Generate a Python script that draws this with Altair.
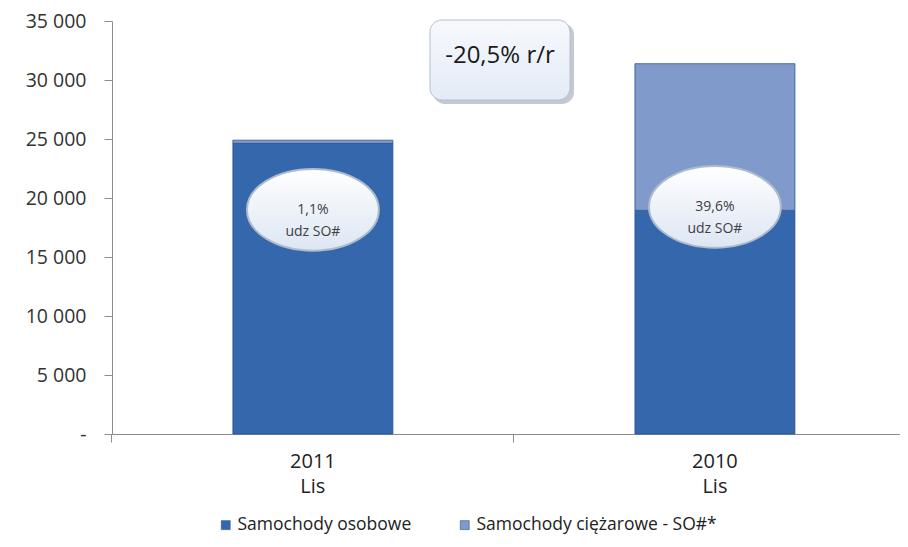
import altair as alt
import pandas as pd

# ---- data ----
years = ["2011 Lis", "2010 Lis"]
series = ["Samochody osobowe", "Samochody ciężarowe - SO#*"]
osobowe = [24630, 18950]
ciezarowe = [270, 12430]
share_labels = ["1,1%|udz SO#", "39,6%|udz SO#"]
share_anchor = [19000, 19250]
yoy_label = "-20,5% r/r"
y_ticks = [0, 5000, 10000, 15000, 20000, 25000, 30000, 35000]

FONT = "Open Sans"
rows = []
for i, yr in enumerate(years):
    rows.append({"year": yr, "series": series[0], "value": osobowe[i], "order": 0})
    rows.append({"year": yr, "series": series[1], "value": ciezarowe[i], "order": 1})
df = pd.DataFrame(rows)
lab = pd.DataFrame({"year": years, "label": share_labels, "anchor": share_anchor})
one = pd.DataFrame({"t": [yoy_label]})

xscale = alt.Scale(domain=years, paddingInner=0.602, paddingOuter=0.281, align=0.535)
yscale = alt.Scale(domain=[0, 35000], nice=False)
y_axis = alt.Axis(title=None, values=y_ticks, grid=False, tickSize=8,
                  labelExpr="datum.value == 0 ? '-' : replace(format(datum.value, ',d'), ',', ' ')",
                  labelFontSize=19.5, labelPadding=18, labelColor="#333333",
                  domainColor="#8C8C8C", tickColor="#8C8C8C", labelFont=FONT)

bars = alt.Chart(df).mark_bar(stroke="#2A5590", strokeWidth=0.8).encode(
    x=alt.X("year:N", scale=xscale, sort=years,
            axis=alt.Axis(title=None, orient="bottom", labelAngle=0, ticks=False,
                          labelExpr="split(datum.label, ' ')", labelFontSize=20,
                          labelLineHeight=25, labelPadding=17, labelColor="#222222",
                          domainColor="#8C8C8C", labelFont=FONT)),
    y=alt.Y("value:Q", stack="zero", scale=yscale, axis=y_axis, title=None),
    color=alt.Color("series:N", scale=alt.Scale(domain=series, range=["#3467AC", "#7F9ACB"]),
                    legend=alt.Legend(title=None, orient="none", legendX=105, legendY=495,
                                      direction="horizontal", symbolType="square",
                                      symbolSize=80, symbolStrokeColor="#2A5590",
                                      symbolStrokeWidth=0.6, labelFontSize=17.5,
                                      labelFont=FONT, labelColor="#222222", labelLimit=0,
                                      columnPadding=44, labelOffset=3)),
    order=alt.Order("order:Q"),
)

tick_axis = alt.Chart(df).mark_bar(opacity=0).encode(
    x=alt.X("year:N", scale=xscale, sort=years,
            axis=alt.Axis(title=None, orient="bottom", labels=False, domain=False,
                          ticks=True, tickSize=8, tickColor="#8C8C8C", bandPosition=-0.756)),
)

ell_grad = alt.LinearGradient(gradient="linear", x1=0, y1=0, x2=0, y2=1,
                              stops=[alt.GradientStop(offset=0, color="#FFFFFF"),
                                     alt.GradientStop(offset=1, color="#DCE6F3")])
ell_shape = "M -1 0 A 1 0.62 0 1 0 1 0 A 1 0.62 0 1 0 -1 0 Z"
ellipses = alt.Chart(lab).mark_point(shape=ell_shape, size=17400, filled=True,
                                     fill=ell_grad, stroke="#AEBBCD", strokeWidth=2,
                                     opacity=1).encode(
    x=alt.X("year:N", scale=xscale, sort=years, axis=None),
    y=alt.Y("anchor:Q", scale=yscale, axis=y_axis, title=None),
)
ell_text = alt.Chart(lab).mark_text(font=FONT, fontSize=14, color="#404040",
                                    lineBreak="|", lineHeight=22).encode(
    x=alt.X("year:N", scale=xscale, sort=years, axis=None),
    y=alt.Y("anchor:Q", scale=yscale, axis=y_axis, title=None),
    text="label:N",
)

box_grad = alt.LinearGradient(gradient="linear", x1=0, y1=0, x2=0, y2=1,
                              stops=[alt.GradientStop(offset=0, color="#F7F9FD"),
                                     alt.GradientStop(offset=1, color="#E3EBF6")])
box_shadow = alt.Chart(one).mark_rect(cornerRadius=12, fill="#C4C9D1").encode(
    x=alt.value(321), x2=alt.value(462), y=alt.value(2), y2=alt.value(83))
box = alt.Chart(one).mark_rect(cornerRadius=12, fill=box_grad, stroke="#B5C0CE",
                               strokeWidth=1).encode(
    x=alt.value(318), x2=alt.value(458), y=alt.value(-1), y2=alt.value(79))
box_text = alt.Chart(one).mark_text(font=FONT, fontSize=24, color="#1A1A1A").encode(
    x=alt.value(388), y=alt.value(35), text="t:N")

chart = alt.layer(bars, tick_axis, ellipses, ell_text, box_shadow, box, box_text).resolve_axis(
    x="independent"
).properties(
    width=788, height=413,
    autosize=alt.AutoSizeParams(type="none"),
    padding={"left": 104, "top": 13, "right": 0, "bottom": 105},
    background="white",
).configure_view(stroke=None)

chart.save("out.html", embed_options={"renderer": "svg", "actions": False})
